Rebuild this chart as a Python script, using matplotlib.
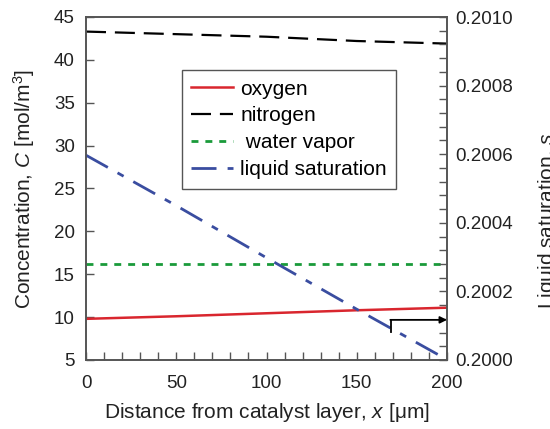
import numpy as np
import matplotlib
matplotlib.use('Agg')
import matplotlib.pyplot as plt
from matplotlib.ticker import MultipleLocator, FormatStrFormatter

plt.rcParams['font.family'] = ['Liberation Sans', 'DejaVu Sans']
plt.rcParams['mathtext.fontset'] = 'custom'
plt.rcParams['mathtext.it'] = 'Liberation Sans:italic'
plt.rcParams['mathtext.rm'] = 'Liberation Sans'

# data
x = [0, 50, 100, 150, 200]
oxygen = [9.8, 10.1, 10.45, 10.8, 11.1]
nitrogen = [43.3, 43.0, 42.7, 42.2, 41.9]
water_vapor = [16.2, 16.2, 16.2, 16.2, 16.2]
x_sat = [0, 50, 100, 150, 197]
liquid_sat = [0.200597, 0.20045, 0.200298, 0.200148, 0.200010]

edge = '#555555'
fig = plt.figure(figsize=(5.5, 4.29), dpi=100)
ax = fig.add_axes([86/550, 1-360/429, 361/550, 343/429])
ax2 = ax.twinx()

l1, = ax.plot(x, oxygen, color='#d9262e', lw=1.8, label='oxygen')
l2, = ax.plot(x, nitrogen, color='black', lw=1.6, dashes=(9, 4), label='nitrogen')
l3, = ax.plot(x, water_vapor, color='#1a9a3a', lw=2.0, dashes=(2.5, 2.5), label=' water vapor')
l4, = ax2.plot(x_sat, liquid_sat, color='#3a4da0', lw=2.0, dashes=(9, 4, 2.5, 4), label='liquid saturation')

ax.set_xlim(0, 200)
ax.set_ylim(5, 45)
ax2.set_ylim(0.2000, 0.2010)

ax.xaxis.set_major_locator(MultipleLocator(50))
ax.xaxis.set_minor_locator(MultipleLocator(10))
ax.yaxis.set_major_locator(MultipleLocator(5))
ax2.yaxis.set_major_locator(MultipleLocator(0.0002))
ax2.yaxis.set_minor_locator(MultipleLocator(0.00004))
ax2.yaxis.set_major_formatter(FormatStrFormatter('%.4f'))

for a in (ax, ax2):
    a.tick_params(which='both', direction='in', color=edge, labelsize=13.5,
                  labelcolor='#222222', length=6, width=1)
    for s in a.spines.values():
        s.set_color(edge)
        s.set_linewidth(1.2)
ax.tick_params(axis='x', pad=11)
ax.tick_params(axis='y', pad=8)
ax2.tick_params(axis='y', pad=6)

ax.set_xlabel(r'Distance from catalyst layer, $\mathit{x}$ [μm]', fontsize=15, color='#222222', labelpad=6)
ax.set_ylabel(r'Concentration, $\mathit{C}$ [mol/m$^3$]', fontsize=15, color='#222222', labelpad=12)
fig.text(0.975, 0.485, r'Liquid saturation, $\mathit{s}$', rotation=90, ha='left', va='center',
         fontsize=15, color='#222222')

# arrow pointing to the right axis
ax2.plot([169, 169], [0.200082, 0.200117], color='black', lw=1.3)
ax2.annotate('', xy=(200, 0.200117), xytext=(168.6, 0.200117),
             arrowprops=dict(arrowstyle='-|>', color='black', lw=1.3, mutation_scale=10,
                             shrinkA=0, shrinkB=0))

leg = ax.legend(handles=[l1, l2, l3, l4], loc='upper left', bbox_to_anchor=(0.266, 0.845),
                fontsize=15, handlelength=2.0, handletextpad=0.35, labelspacing=0.38,
                borderpad=0.45, borderaxespad=0, fancybox=False, framealpha=1)
leg.get_frame().set_edgecolor(edge)
leg.get_frame().set_linewidth(1.0)

fig.savefig('out.png', dpi=100)
